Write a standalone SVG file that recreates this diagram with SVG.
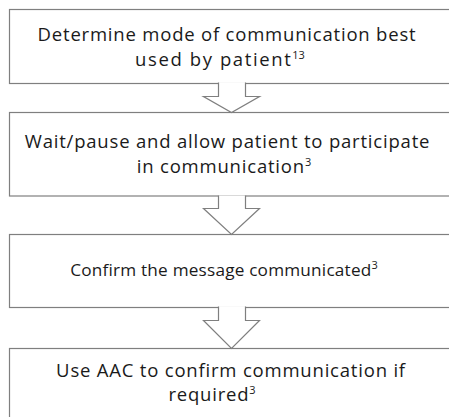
<svg xmlns="http://www.w3.org/2000/svg" width="449" height="417" viewBox="0 0 449 417">
  <style>
    .box { fill: #ffffff; stroke: #7f7f7f; stroke-width: 1.2; }
    .arrow { fill: #ffffff; stroke: #7f7f7f; stroke-width: 1.2; stroke-linejoin: miter; }
    .label { font-family: "Open Sans", Lato, sans-serif; font-size: 18.5px; letter-spacing: 0.8px; fill: #1a1a1a; text-anchor: middle; }
    .sup { font-size: 11px; letter-spacing: 0; }
  </style>
  <rect width="449" height="417" fill="#ffffff"/>

  <g id="step1">
    <rect class="box" x="9.5" y="9.5" width="448" height="74"/>
    <text class="label" x="227" y="41">Determine mode of communication best</text>
    <text class="label" x="220" y="66" style="letter-spacing:1.6px">used by patient<tspan class="sup" dy="-7">13</tspan></text>
  </g>

  <g id="step2">
    <rect class="box" x="9.5" y="112.5" width="448" height="83.5"/>
    <text class="label" x="227.5" y="148">Wait/pause and allow patient to participate</text>
    <text class="label" x="224" y="173">in communication<tspan class="sup" dy="-7">3</tspan></text>
  </g>

  <g id="step3">
    <rect class="box" x="9.5" y="234.5" width="448" height="73"/>
    <text class="label" x="224" y="275.5" style="font-size:17.2px;letter-spacing:0.2px">Confirm the message communicated<tspan class="sup" dy="-7">3</tspan></text>
  </g>

  <g id="step4">
    <rect class="box" x="9.5" y="348.5" width="448" height="80"/>
    <text class="label" x="231" y="377">Use AAC to confirm communication if</text>
    <text class="label" x="212" y="401">required<tspan class="sup" dy="-7">3</tspan></text>
  </g>

  <g id="connectors">
    <path class="arrow" d="M218.5,82.5 V96.5 H203.5 L231.5,112.5 L259.5,96.5 H245.5 V82.5"/>
    <path class="arrow" d="M218.5,195.5 V208.5 H203.5 L231.5,234.5 L259.5,208.5 H245.5 V195.5"/>
    <path class="arrow" d="M218.5,306.5 V320.5 H203.5 L231.5,348.5 L259.5,320.5 H245.5 V306.5"/>
  </g>
</svg>
